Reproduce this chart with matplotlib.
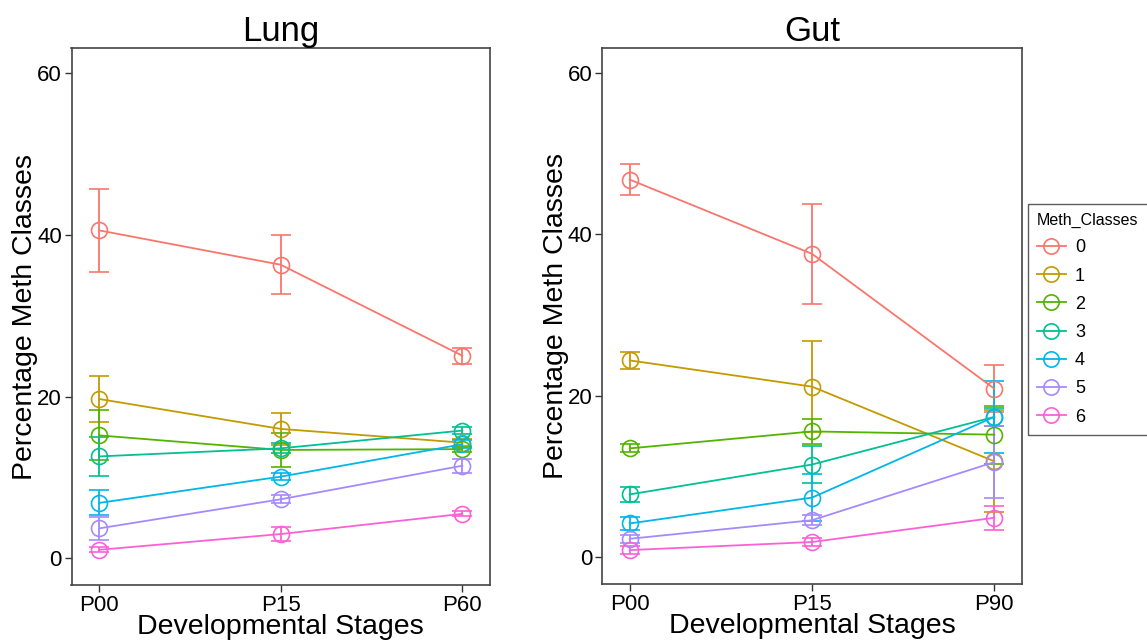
import matplotlib
matplotlib.use("Agg")
import matplotlib.pyplot as plt
from matplotlib.lines import Line2D

plt.rcParams['font.family'] = ['Liberation Sans', 'DejaVu Sans']

classes = ['0', '1', '2', '3', '4', '5', '6']
colors = ['#F8766D', '#C49A00', '#53B400', '#00C094', '#00B6EB', '#A58AFF', '#FB61D7']

lung_stages = ['P00', 'P15', 'P60']
lung_mean = [
    [40.55, 36.3, 25.05],
    [19.7, 16.0, 14.3],
    [15.2, 13.4, 13.5],
    [12.6, 13.6, 15.8],
    [6.85, 10.1, 14.1],
    [3.7, 7.3, 11.45],
    [1.05, 3.0, 5.5],
]
lung_err = [
    [5.1, 3.65, 1.0],
    [2.9, 2.0, 0.4],
    [3.1, 2.1, 0.3],
    [2.4, 0.6, 0.4],
    [1.55, 0.4, 0.5],
    [1.45, 0.5, 0.85],
    [0.3, 0.9, 0.3],
]

gut_stages = ['P00', 'P15', 'P90']
gut_mean = [
    [46.8, 37.6, 20.9],
    [24.4, 21.15, 11.9],
    [13.5, 15.6, 15.2],
    [7.8, 11.5, 17.4],
    [4.2, 7.4, 17.4],
    [2.3, 4.6, 11.8],
    [0.9, 1.9, 4.9],
]
gut_err = [
    [1.95, 6.2, 2.95],
    [1.1, 5.65, 6.3],
    [0.5, 1.6, 3.6],
    [0.9, 2.3, 1.1],
    [0.8, 2.9, 4.45],
    [0.5, 0.6, 4.5],
    [0.5, 0.5, 1.5],
]

W, H = 1147, 641
fig = plt.figure(figsize=(W / 100, H / 100), dpi=100, facecolor='white')


def panel(left, right, top, bottom, title, stages, means, errs):
    ax = fig.add_axes([left / W, 1 - bottom / H, (right - left) / W, (bottom - top) / H])
    x = list(range(1, len(stages) + 1))
    for m, e, c in zip(means, errs, colors):
        ax.errorbar(x, m, yerr=e, color=c, lw=1.3, elinewidth=1.3,
                    capsize=7, capthick=1.3, marker='o', ms=11.5,
                    mfc='none', mec=c, mew=1.2, zorder=3)
    ax.set_xlim(0.848, 3.152)
    ax.set_ylim(-3.3, 63.1)
    ax.set_xticks(x)
    ax.set_xticklabels(stages, fontsize=16)
    ax.set_yticks([0, 20, 40, 60])
    ax.tick_params(axis='y', labelsize=16, length=5, width=1, color='#333333', pad=2)
    ax.tick_params(axis='x', length=5, width=1, color='#333333', pad=2)
    for s in ax.spines.values():
        s.set_color('#444444')
        s.set_linewidth(1.2)
    ax.set_title(title, fontsize=25, pad=4)
    ax.set_xlabel('Developmental Stages', fontsize=20.5, labelpad=-1)
    ax.set_ylabel('Percentage Meth Classes', fontsize=20.5, labelpad=-1)
    return ax


panel(71.5, 490, 48, 585, 'Lung', lung_stages, lung_mean, lung_err)
panel(602, 1022, 48, 584, 'Gut', gut_stages, gut_mean, gut_err)

handles = [Line2D([], [], color=c, lw=1.3, marker='o', ms=11, mfc='none', mew=1.2)
           for c in colors]
leg = fig.legend(handles, classes, title='Meth_Classes', loc='upper left',
                 bbox_to_anchor=(1028 / W, 1 - 204 / H), borderaxespad=0,
                 fontsize=13, title_fontsize=11.5, frameon=True, fancybox=False,
                 handlelength=1.6, labelspacing=0.62, borderpad=0.5,
                 handletextpad=0.5, alignment='left')
leg.get_frame().set_edgecolor('#333333')
leg.get_frame().set_linewidth(1.0)

fig.savefig('out.png', dpi=100)
